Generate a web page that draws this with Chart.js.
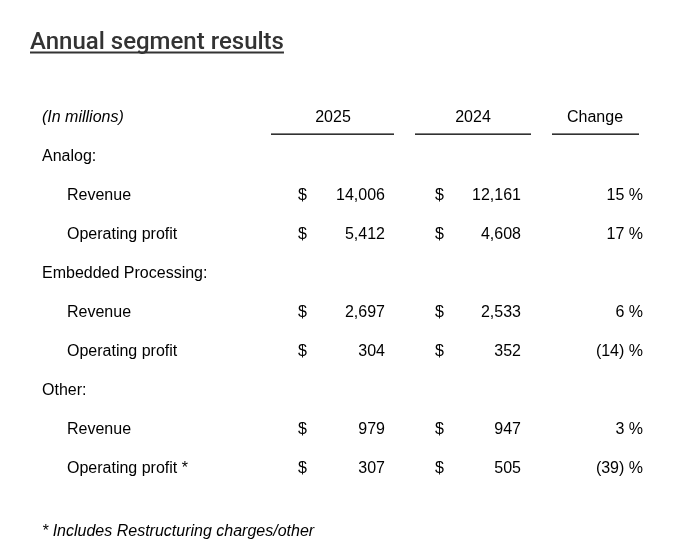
<!DOCTYPE html>
<html lang="en">
<head>
    <meta charset="UTF-8">
    <title>Annual segment results</title>
    <script src="https://cdn.jsdelivr.net/npm/chart.js@4.4.1/dist/chart.umd.min.js"></script>
    <style>
        html, body { margin: 0; padding: 0; background: #fff; }
        .chart-container { width: 684px; height: 555px; position: relative; }
    </style>
</head>
<body>
    <div class="chart-container">
        <canvas id="segmentChart"></canvas>
    </div>

    <script>
        // Datos de la tabla
        const title = 'Annual segment results';
        const unitsLabel = '(In millions)';
        const columns = ['2025', '2024', 'Change'];
        const segments = ['Analog:', 'Embedded Processing:', 'Other:'];
        const lineItems = ['Revenue', 'Operating profit', 'Revenue', 'Operating profit', 'Revenue', 'Operating profit *'];
        const values2025 = [14006, 5412, 2697, 304, 979, 307];
        const values2024 = [12161, 4608, 2533, 352, 947, 505];
        const changePct = [15, 17, 6, -14, 3, -39];
        const footnote = '* Includes Restructuring charges/other';

        // Filas del eje y: cabecera, segmento, dos partidas por segmento
        const rowKeys = ['header'];
        segments.forEach((s, i) => {
            rowKeys.push(s, lineItems[i * 2], lineItems[i * 2 + 1]);
        });

        const bodyFont = "16px 'Liberation Sans', Arial, sans-serif";
        const italicFont = "italic 16px 'Liberation Sans', Arial, sans-serif";

        function fmtNum(v) {
            return v.toLocaleString('en-US');
        }
        function fmtPct(v) {
            return v < 0 ? '(' + Math.abs(v) + ') %' : v + ' %';
        }

        // Plugin que dibuja las celdas usando las escalas del gráfico
        const tablePlugin = {
            id: 'tablePlugin',
            afterDraw(chart) {
                const ctx = chart.ctx;
                const x = chart.scales.x;
                const y = chart.scales.y;
                const rowY = i => y.getPixelForValue(i) + 1.5;
                ctx.save();

                // título subrayado
                ctx.font = "500 24px Roboto, sans-serif";
                ctx.fillStyle = '#333';
                ctx.textAlign = 'left';
                ctx.textBaseline = 'alphabetic';
                ctx.fillText(title, x.getPixelForValue(30), 48.5);
                const tw = ctx.measureText(title).width;
                ctx.fillRect(x.getPixelForValue(30), 51.5, tw, 2);
                ctx.textBaseline = 'middle';

                // cabecera
                ctx.fillStyle = '#000';
                ctx.font = italicFont;
                ctx.fillText(unitsLabel, x.getPixelForValue(42), rowY(0));
                ctx.font = bodyFont;
                ctx.textAlign = 'center';
                const headCenters = [333, 473, 595];
                const headLines = [[271, 394], [415, 531], [552, 639]];
                columns.forEach((c, i) => {
                    ctx.fillText(c, x.getPixelForValue(headCenters[i]), rowY(0));
                    const x0 = x.getPixelForValue(headLines[i][0]);
                    const x1 = x.getPixelForValue(headLines[i][1]);
                    ctx.fillRect(x0, rowY(0) + 16, x1 - x0, 1.3);
                });

                // filas
                let item = 0;
                for (let r = 1; r < rowKeys.length; r++) {
                    const yy = rowY(r);
                    if ((r - 1) % 3 === 0) {
                        ctx.textAlign = 'left';
                        ctx.fillText(rowKeys[r], x.getPixelForValue(42), yy);
                        continue;
                    }
                    ctx.textAlign = 'left';
                    ctx.fillText(rowKeys[r], x.getPixelForValue(67), yy);
                    ctx.fillText('$', x.getPixelForValue(298), yy);
                    ctx.fillText('$', x.getPixelForValue(435), yy);
                    ctx.textAlign = 'right';
                    ctx.fillText(fmtNum(values2025[item]), x.getPixelForValue(385), yy);
                    ctx.fillText(fmtNum(values2024[item]), x.getPixelForValue(521), yy);
                    ctx.fillText(fmtPct(changePct[item]), x.getPixelForValue(643), yy);
                    item++;
                }

                // nota al pie
                ctx.textAlign = 'left';
                ctx.font = italicFont;
                ctx.fillText(footnote, x.getPixelForValue(42), 532);
                ctx.restore();
            }
        };

        const chart = new Chart(document.getElementById('segmentChart'), {
            type: 'scatter',
            data: { datasets: [] },
            options: {
                responsive: true,
                maintainAspectRatio: false,
                animation: false,
                layout: { padding: { top: 116, bottom: 88, left: 0, right: 0 } },
                plugins: { legend: { display: false }, tooltip: { enabled: false } },
                scales: {
                    x: { type: 'linear', min: 0, max: 684, display: false },
                    y: { type: 'category', labels: rowKeys, offset: false, display: false }
                }
            },
            plugins: [tablePlugin]
        });
    </script>
</body>
</html>
